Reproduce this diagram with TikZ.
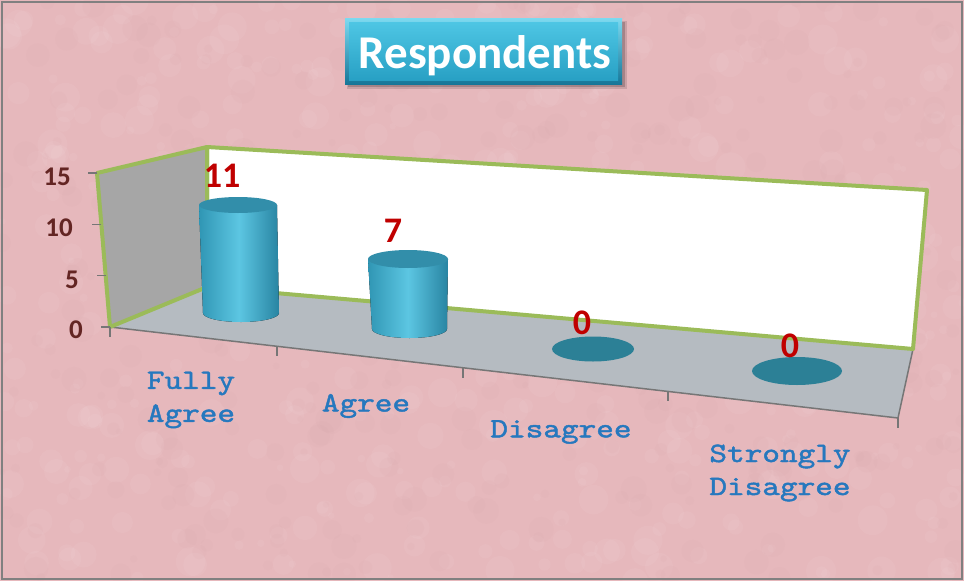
\documentclass[tikz,border=0pt]{standalone}
\usepackage{fontspec}
\setmainfont{Carlito}
\newfontfamily\catfont{lmmono10-regular.otf}[FakeBold=1.6,FakeStretch=1.2]
\usetikzlibrary{calc}
\definecolor{bgpink}{RGB}{230,184,188}
\definecolor{bgdark}{RGB}{200,145,150}
\definecolor{wallgreen}{RGB}{155,187,89}
\definecolor{leftwallc}{RGB}{166,166,166}
\definecolor{floorc}{RGB}{181,187,193}
\definecolor{axisgray}{RGB}{118,118,118}
\definecolor{cylL}{RGB}{48,150,180}
\definecolor{cylM}{RGB}{92,198,226}
\definecolor{cylR}{RGB}{40,132,162}
\definecolor{cyltop}{RGB}{50,142,170}
\definecolor{flatc}{RGB}{44,128,150}
\definecolor{valred}{RGB}{192,0,0}
\definecolor{ylab}{RGB}{99,37,35}
\definecolor{catblue}{RGB}{38,120,190}
\definecolor{tbTop}{RGB}{125,218,240}
\definecolor{tbBot}{RGB}{22,118,152}
\definecolor{tbIn1}{RGB}{78,198,228}
\definecolor{tbIn2}{RGB}{40,160,196}
\tikzset{
 ylabel/.style={font=\fontsize{27}{30}\selectfont\bfseries, text=ylab, anchor=east, inner sep=0pt},
 vallabel/.style={font=\fontsize{36}{40}\selectfont\bfseries, text=valred, inner sep=0pt},
 catlabel/.style={font=\catfont\fontsize{28}{33}\selectfont, text=catblue, align=center, inner sep=0pt},
 tickline/.style={draw=axisgray, line width=1.3pt},
 wallborder/.style={draw=wallgreen, line width=4pt, line join=round},
 cylbody/.style={left color=cylL, right color=cylR, middle color=cylM},
}
\begin{document}
\begin{tikzpicture}[x=1pt,y=-1pt]
\useasboundingbox (0,0) rectangle (964,581);
% background
\fill[bgpink] (0,0) rectangle (964,581);
\pgfmathsetseed{42}
\foreach \i in {1,...,500}{
  \pgfmathsetmacro\px{964*rnd}
  \pgfmathsetmacro\py{581*rnd}
  \pgfmathsetmacro\pr{3+12*rnd}
  \fill[white,opacity=0.05] (\px,\py) circle[radius=\pr pt];
}
\foreach \i in {1,...,400}{
  \pgfmathsetmacro\px{964*rnd}
  \pgfmathsetmacro\py{581*rnd}
  \pgfmathsetmacro\pr{3+10*rnd}
  \fill[bgdark,opacity=0.05] (\px,\py) circle[radius=\pr pt];
}
\draw[gray, line width=2pt] (2,2) rectangle (962,579);
% title
\fill[black,opacity=0.12] (347,21) rectangle (627,89);
\fill[black,opacity=0.18] (348,22) rectangle (625,87);
\fill[top color=tbTop,bottom color=tbBot] (345,18) rectangle (622,84);
\fill[top color=tbIn1,bottom color=tbIn2] (349,22) rectangle (618,80);
\node[font=\fontsize{47}{52}\selectfont\bfseries,text=white,anchor=base,inner sep=0pt] (title) at (485,68) {Respondents};
% chart frame
\coordinate (LTL) at (97,173);
\coordinate (LBL) at (110,327);
\coordinate (BTL) at (207,147);
\coordinate (BBL) at (207,287);
\coordinate (BTR) at (927,190);
\coordinate (BBR) at (913,349);
\coordinate (FFR) at (898,418);
\fill[leftwallc] (LTL)--(BTL)--(BBL)--(LBL)--cycle;
\fill[white] (BTL)--(BTR)--(BBR)--(BBL)--cycle;
\fill[floorc] (LBL)--(BBL)--(BBR)--(FFR)--cycle;
\draw[axisgray, line width=1.5pt] (LBL)--(FFR)--(BBR);
\draw[wallborder] (LTL)--(BTL)--(BBL)--(LBL)--cycle;
\draw[wallborder] (BTL)--(BTR)--(BBR)--(BBL)--cycle;
\foreach \t in {0,0.212,0.448,0.708,1}{\draw[tickline] ($(LBL)!\t!(FFR)$) -- ++(0,10);}
\foreach \t in {0,0.3333,0.6667,1}{\draw[tickline] ($(LBL)!\t!(LTL)$) -- ++(-9,0);}
\node[ylabel] (y15) at (71,177) {15};
\node[ylabel] (y10) at (73,228) {10};
\node[ylabel] (y5) at (79,280) {5};
\node[ylabel] (y0) at (83,330) {0};
% cylinders
\fill[cylbody] (199,205) -- (203,313) arc[start angle=180,end angle=360,x radius=38pt,y radius=9pt] -- (277,205) -- cycle;
\fill[cyltop] (238,205) ellipse[x radius=39pt,y radius=8pt];
\fill[cylbody] (368,259) -- (372,329) arc[start angle=180,end angle=360,x radius=37.5pt,y radius=9pt] -- (448,259) -- cycle;
\fill[cyltop] (408,259) ellipse[x radius=40pt,y radius=9pt];
\fill[flatc] (593,349) ellipse[x radius=41pt,y radius=12.5pt];
\fill[flatc] (797,371) ellipse[x radius=45pt,y radius=14pt];
% values
\node[vallabel] (v1) at (222,176) {11};
\node[vallabel] (v2) at (393,231) {7};
\node[vallabel] (v3) at (582,323) {0};
\node[vallabel] (v4) at (790,346) {0};
% categories
\node[catlabel] (c1) at (191,400) {Fully\\Agree};
\node[catlabel] (c2) at (366,406) {Agree};
\node[catlabel] (c3) at (561,432) {Disagree};
\node[catlabel] (c4) at (780,473) {Strongly\\Disagree};
\end{tikzpicture}
\end{document}
